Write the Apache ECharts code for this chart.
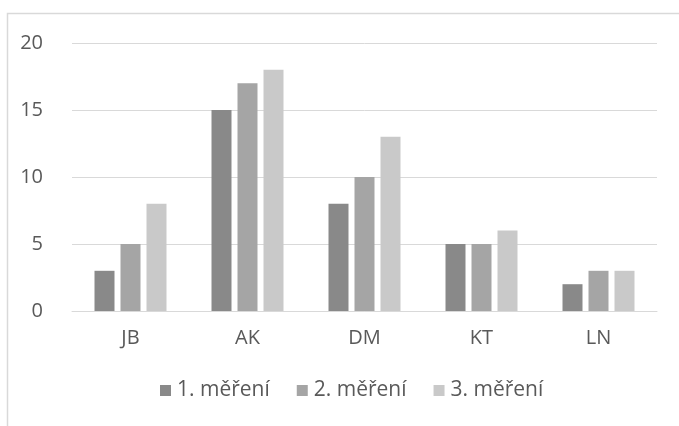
<!DOCTYPE html>
<html>
<head>
<meta charset="utf-8">
<script src="https://cdn.jsdelivr.net/npm/echarts@6/dist/echarts.min.js"></script>
<style>
  html, body { margin: 0; padding: 0; background: #fff; }
  #chart { width: 679px; height: 426px; }
</style>
</head>
<body>
<div id="chart"></div>
<script>
// Naměřené hodnoty pro každou osobu ve třech měřeních
const categories = ['JB', 'AK', 'DM', 'KT', 'LN'];
const seriesNames = ['1. měření', '2. měření', '3. měření'];
const mereni1 = [3, 15, 8, 5, 2];
const mereni2 = [5, 17, 10, 5, 3];
const mereni3 = [8, 18, 13, 6, 3];
const yTicks = [0, 5, 10, 15, 20];

const colors = ['#898989', '#a5a5a5', '#c9c9c9'];
const font = '"Open Sans", "Noto Sans", sans-serif';
const textColor = '#595959';
const lineColor = '#d9d9d9';

const chart = echarts.init(document.getElementById('chart'), null, { renderer: 'canvas' });

const values = [mereni1, mereni2, mereni3];
chart.setOption({
  animation: false,
  backgroundColor: '#ffffff',
  color: colors,
  graphic: [{
    type: 'rect',
    shape: { x: 7.5, y: 13.5, width: 720, height: 460 },
    style: { fill: 'none', stroke: lineColor, lineWidth: 1.5 },
    silent: true
  }],
  grid: { left: 72, right: 22, top: 43, bottom: 115, containLabel: false },
  legend: {
    data: seriesNames,
    top: 375,
    left: 155,
    icon: 'rect',
    itemWidth: 11,
    itemHeight: 11,
    itemGap: 27,
    textStyle: { fontFamily: font, fontSize: 21, color: textColor, padding: [0, 0, 0, 1] }
  },
  xAxis: {
    type: 'category',
    data: categories,
    axisLine: { show: true, lineStyle: { color: lineColor, width: 1 } },
    axisTick: { show: false },
    axisLabel: { fontFamily: font, fontSize: 20, color: textColor, margin: 17 }
  },
  yAxis: {
    type: 'value',
    min: yTicks[0],
    max: yTicks[yTicks.length - 1],
    interval: yTicks[1] - yTicks[0],
    axisLine: { show: false },
    axisTick: { show: false },
    splitLine: { lineStyle: { color: lineColor, width: 1 } },
    axisLabel: { fontFamily: font, fontSize: 20, color: textColor, margin: 29 }
  },
  series: seriesNames.map((name, i) => ({
    name,
    type: 'bar',
    data: values[i],
    barWidth: 20,
    barGap: '30%',
    itemStyle: { color: colors[i] }
  }))
});
</script>
</body>
</html>
